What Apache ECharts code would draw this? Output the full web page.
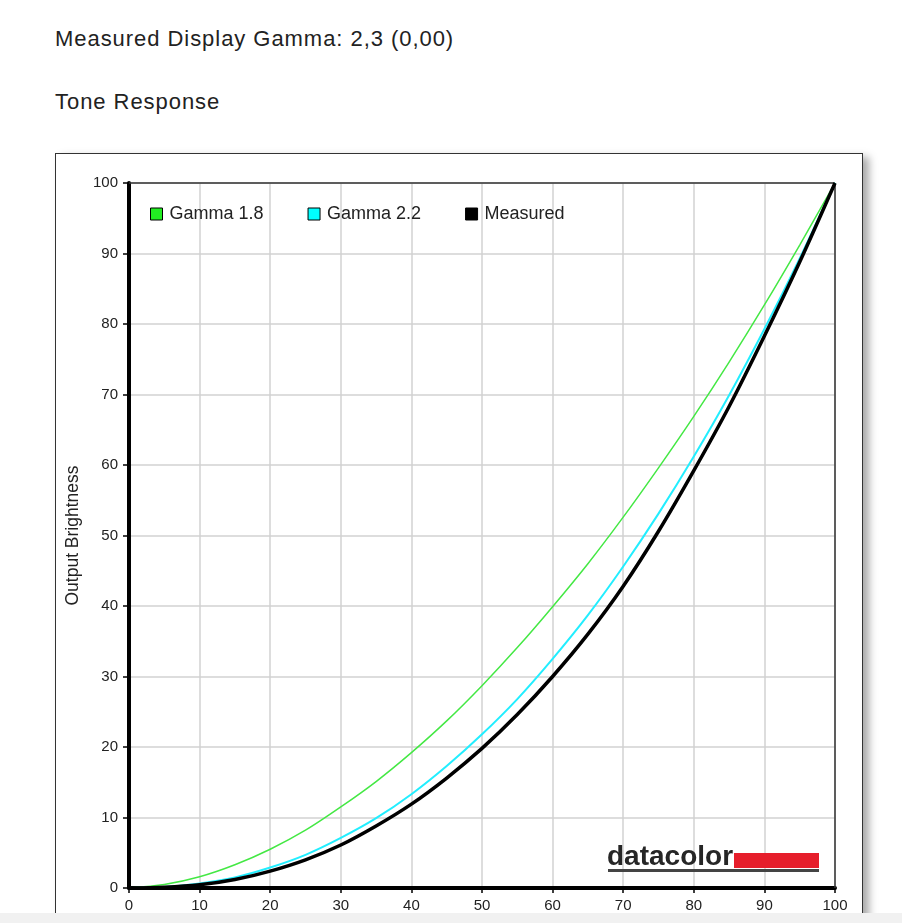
<!DOCTYPE html>
<html>
<head>
<meta charset="utf-8">
<script src="https://cdn.jsdelivr.net/npm/echarts@6/dist/echarts.min.js"></script>
<style>
  html, body { margin: 0; padding: 0; background: #fff; }
  body { width: 902px; height: 923px; position: relative; overflow: hidden; font-family: Arial, "Liberation Sans", sans-serif; color: #222; }
  .head { position: absolute; left: 55px; font-size: 22px; letter-spacing: 0.95px; white-space: nowrap; }
  #box { position: absolute; left: 55px; top: 153px; width: 806px; height: 800px; border: 1px solid #333; box-shadow: 6px 4px 8px #aaa; background: #fff; }
  #main { position: absolute; left: 0; top: 0; width: 902px; height: 923px; }
  #strip { position: absolute; left: 0; top: 913px; width: 902px; height: 10px; background: #f1f1f1; }
</style>
</head>
<body>
<div class="head" style="top:26px">Measured Display Gamma: 2,3 (0,00)</div>
<div class="head" style="top:89px">Tone Response</div>
<div id="box"></div>
<div id="main"></div>
<div id="strip"></div>
<script>
// input levels (%)
var inputLevels = [0, 5, 10, 15, 20, 25, 30, 35, 40, 45, 50, 55, 60, 65, 70, 75, 80, 85, 90, 95, 100];
var gamma18 = [0, 0.5, 1.6, 3.3, 5.5, 8.2, 11.5, 15.1, 19.2, 23.7, 28.7, 34.1, 39.9, 46.0, 52.6, 59.6, 66.9, 74.6, 82.7, 91.2, 100];
var gamma22 = [0, 0.15, 0.65, 1.5, 2.9, 4.7, 7.1, 9.9, 13.3, 17.3, 21.8, 26.8, 32.5, 38.7, 45.6, 53.1, 61.2, 69.9, 79.3, 89.3, 100];
var measured = [0, 0.1, 0.45, 1.2, 2.4, 4.0, 6.1, 8.8, 11.9, 15.6, 19.8, 24.6, 30.0, 36.0, 42.8, 50.6, 59.2, 68.3, 78.3, 88.8, 100];
var tickLabels = [0, 10, 20, 30, 40, 50, 60, 70, 80, 90, 100];

function pairs(ys) {
  return inputLevels.map(function (x, i) { return [x, ys[i]]; });
}

var chart = echarts.init(document.getElementById('main'));

var axisText = { color: '#222', fontSize: 15, fontFamily: 'Arial' };

var option = {
  animation: false,
  grid: { left: 129, right: 67, top: 183, bottom: 35 },
  legend: {
    left: 150, top: 205, padding: 0,
    icon: 'rect',
    itemWidth: 12, itemHeight: 12,
    itemGap: 44,
    itemStyle: { borderColor: '#000', borderWidth: 1 },
    textStyle: { fontSize: 18, color: '#222', fontFamily: 'Arial', padding: [0, 0, 0, 2] },
    data: ['Gamma 1.8', 'Gamma 2.2', 'Measured']
  },
  xAxis: {
    type: 'value', min: 0, max: 100, interval: 10,
    axisLine: { onZero: false, lineStyle: { color: '#000', width: 4 } },
    axisTick: { length: 5, lineStyle: { color: '#000', width: 1.5 } },
    axisLabel: Object.assign({ margin: 10, formatter: function (v) { return tickLabels.indexOf(v) >= 0 ? String(v) : ''; } }, axisText),
    splitLine: { show: true, lineStyle: { color: '#d2d2d2', width: 1.5 } }
  },
  yAxis: {
    type: 'value', min: 0, max: 100, interval: 10,
    name: 'Output Brightness', nameLocation: 'middle', nameGap: 47,
    nameTextStyle: { fontSize: 17.5, color: '#222', fontFamily: 'Arial' },
    axisLine: { show: true, onZero: false, lineStyle: { color: '#000', width: 4 } },
    axisTick: { show: true, length: 6, lineStyle: { color: '#000', width: 1.5 } },
    axisLabel: Object.assign({ margin: 11 }, axisText),
    splitLine: { show: true, lineStyle: { color: '#d2d2d2', width: 1.5 } }
  },
  graphic: [
    // plot frame top/right
    { type: 'line', shape: { x1: 129, y1: 183, x2: 835, y2: 183 }, style: { stroke: '#333', lineWidth: 1.5 }, z: 1 },
    { type: 'line', shape: { x1: 835, y1: 183, x2: 835, y2: 888 }, style: { stroke: '#333', lineWidth: 1.5 }, z: 1 },
    // datacolor logo
    { type: 'text', left: 607, top: 843, z: 10, style: { text: 'datacolor', font: 'bold 28px Arial', fill: '#262626' } },
    { type: 'rect', shape: { x: 734, y: 853, width: 85, height: 15 }, style: { fill: '#e61e2b' }, z: 10 },
    { type: 'rect', shape: { x: 608, y: 869, width: 211, height: 3 }, style: { fill: '#444' }, z: 10 }
  ],
  series: [
    { name: 'Gamma 1.8', type: 'line', smooth: 0.3, symbol: 'none', data: pairs(gamma18),
      itemStyle: { color: '#22ee22' }, lineStyle: { color: '#44e844', width: 1.5 }, z: 3 },
    { name: 'Gamma 2.2', type: 'line', smooth: 0.3, symbol: 'none', data: pairs(gamma22),
      itemStyle: { color: '#00ffff' }, lineStyle: { color: '#22eeff', width: 2 }, z: 4 },
    { name: 'Measured', type: 'line', smooth: 0.3, symbol: 'none', data: pairs(measured),
      itemStyle: { color: '#000' }, lineStyle: { color: '#000', width: 3.5 }, z: 5 }
  ]
};

chart.setOption(option);
</script>
</body>
</html>
